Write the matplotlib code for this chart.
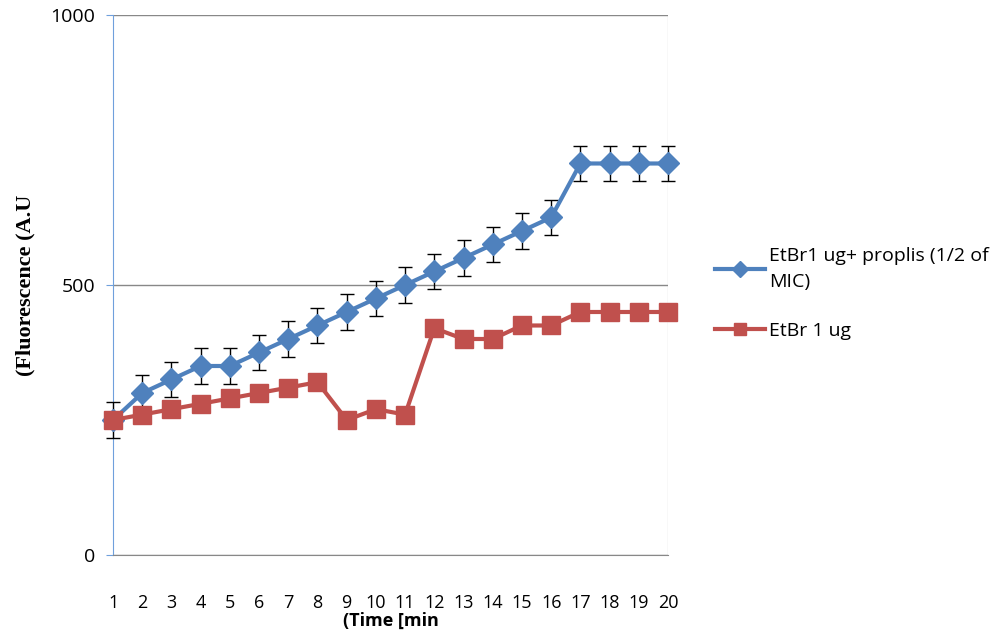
import matplotlib
matplotlib.use("Agg")
import matplotlib.pyplot as plt
from matplotlib.lines import Line2D

# Data
time_min = list(range(1, 21))
etbr_proplis = [250, 300, 325, 350, 350, 375, 400, 425, 450, 475,
                500, 525, 550, 575, 600, 625, 725, 725, 725, 725]
etbr_proplis_err = [33] * 20
etbr_only = [250, 260, 270, 280, 290, 300, 310, 320, 250, 270,
             260, 420, 400, 400, 425, 425, 450, 450, 450, 450]

label_proplis = "EtBr1 ug+ proplis (1/2 of\nMIC)"
label_only = "EtBr 1 ug"

blue = "#4F81BD"
red = "#C0504D"

plt.rcParams['font.family'] = ['Open Sans', 'DejaVu Sans']

fig = plt.figure(figsize=(10.03, 6.38), dpi=100)
ax = fig.add_axes([0.1127, 0.1301, 0.666 - 0.1127, 0.9765 - 0.1301])

# Series
ax.errorbar(time_min, etbr_proplis, yerr=etbr_proplis_err, color=blue, lw=3,
            marker='D', markersize=11, ecolor='black', elinewidth=1,
            capsize=5, capthick=1, clip_on=False, zorder=3)
ax.plot(time_min, etbr_only, color=red, lw=3, marker='s', markersize=13,
        markeredgecolor=red, clip_on=False, zorder=4)

# Axes styling
ax.set_xlim(1, 20)
ax.set_ylim(0, 1000)
ax.set_yticks([0, 500, 1000])
ax.set_xticks(time_min)
ax.yaxis.grid(True, color='#888888', lw=1)
ax.set_axisbelow(True)
for side in ['top', 'right']:
    ax.spines[side].set_visible(False)
ax.spines['left'].set_color('#6FA0DC')
ax.spines['bottom'].set_color('#888888')
ax.tick_params(axis='y', length=5, color='#6FA0DC', labelsize=14, pad=8)
ax.tick_params(axis='x', length=0, labelsize=13, pad=28)
ax.axvline(20, color='#E0E0E0', lw=1, zorder=0)

fig.text(0.025, 0.553, "(Fluorescence (A.U", family='Liberation Serif',
         fontweight='bold', fontsize=16, rotation=90, ha='center', va='center')
ax.set_xlabel("(Time [min", fontweight='bold', fontsize=13, labelpad=0)

handles = [
    Line2D([], [], color=blue, lw=3, marker='D', markersize=8),
    Line2D([], [], color=red, lw=3, marker='s', markersize=9),
]
leg = ax.legend(handles, [label_proplis, label_only], loc='center left',
                bbox_to_anchor=(0.695, 0.54), bbox_transform=fig.transFigure,
                frameon=False, fontsize=14, handlelength=2.6, labelspacing=1.6,
                handletextpad=0.2)
for t in leg.get_texts():
    t.set_linespacing(1.6)

plt.savefig("out.png", dpi=100)
